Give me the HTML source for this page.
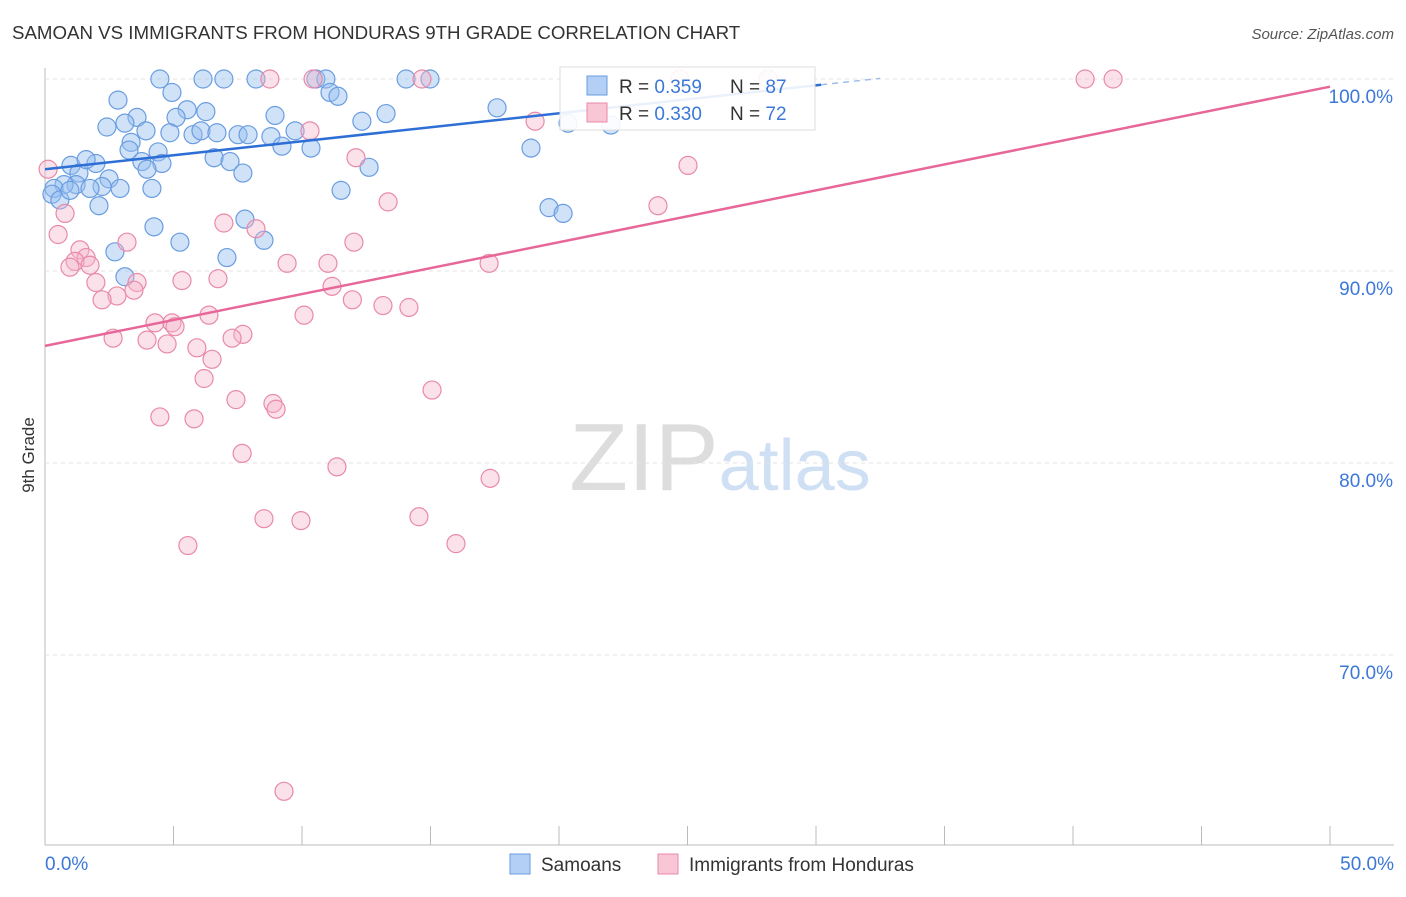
<!DOCTYPE html>
<html><head><meta charset="utf-8"><style>
body{margin:0;background:#fff;font-family:"Liberation Sans",sans-serif;}
svg text{font-family:"Liberation Sans",sans-serif;}
</style></head><body>
<svg id="c" width="1406" height="892">
<text x="12" y="39" font-size="18.7" fill="#333">SAMOAN VS IMMIGRANTS FROM HONDURAS 9TH GRADE CORRELATION CHART</text>
<text x="1394" y="39" font-size="15" fill="#555" font-style="italic" text-anchor="end">Source: ZipAtlas.com</text>
<text x="34" y="455" font-size="17" fill="#333" transform="rotate(-90 34 455)" text-anchor="middle">9th Grade</text>
<text x="720" y="490" font-size="96" fill="#ddd" text-anchor="middle" font-family="Liberation Serif">ZIP<tspan fill="#cfe0f4" font-family="Liberation Sans" font-size="72">atlas</tspan></text>
<g id="grid"></g><g id="pts"></g><g id="lines"></g>
<g>
<rect x="560" y="67" width="255" height="63" fill="#fff" fill-opacity="0.9" stroke="#ddd"/>
<rect x="587" y="76" width="20" height="19" fill="#b3cff5" stroke="#6a9de0"/>
<text x="619" y="93" font-size="19" fill="#333">R = <tspan fill="#3b78d8">0.359</tspan><tspan x="730">N = </tspan><tspan fill="#3b78d8">87</tspan></text>
<rect x="587" y="103" width="20" height="19" fill="#f9c6d6" stroke="#e88aa8"/>
<text x="619" y="120" font-size="19" fill="#333">R = <tspan fill="#3b78d8">0.330</tspan><tspan x="730">N = </tspan><tspan fill="#3b78d8">72</tspan></text>
</g>
<g>
<rect x="510" y="854" width="20" height="20" fill="#b3cff5" stroke="#6a9de0"/>
<text x="541" y="871" font-size="19" fill="#333">Samoans</text>
<rect x="658" y="854" width="20" height="20" fill="#f9c6d6" stroke="#e88aa8"/>
<text x="689" y="871" font-size="19" fill="#333">Immigrants from Honduras</text>
</g>
</svg>
<script>
const xTicks=[0,5,10,15,20,25,30,35,40,45,50];
const yTicks=[70,80,90,100];
const blueX=[4.47,6.15,6.96,8.21,10.54,10.93,14.05,14.98,2.84,4.94,11.09,11.40,17.59,5.53,6.26,8.95,12.33,13.27,5.10,3.58,2.41,3.11,3.93,4.86,5.76,6.07,6.69,7.51,7.90,8.79,9.73,9.22,10.35,3.35,3.27,4.40,6.58,7.20,3.77,4.55,3.97,7.70,12.61,18.91,20.35,22.02,1.98,1.01,1.32,1.60,2.49,2.22,2.92,4.16,11.52,1.21,0.74,0.35,0.27,0.58,2.10,4.24,5.25,7.78,8.52,7.08,2.72,3.11,19.61,20.16,1.75,0.97];
const blueY=[100,100,100,100,100,100,100,100,98.9,99.3,99.3,99.1,98.5,98.4,98.3,98.1,97.8,98.2,98.0,98.0,97.5,97.7,97.3,97.2,97.1,97.3,97.2,97.1,97.1,97.0,97.3,96.5,96.4,96.7,96.3,96.2,95.9,95.7,95.7,95.6,95.3,95.1,95.4,96.4,97.7,97.6,95.6,95.5,95.1,95.8,94.8,94.4,94.3,94.3,94.2,94.5,94.5,94.3,94.0,93.7,93.4,92.3,91.5,92.7,91.6,90.7,91.0,89.7,93.3,93.0,94.3,94.2];
const pinkX=[8.75,10.43,14.67,24.71,28.13,40.47,41.56,10.31,19.07,25.02,12.10,13.35,23.85,0.12,0.78,0.51,6.96,8.21,3.19,12.02,1.36,1.60,1.17,1.75,0.97,9.42,11.01,17.28,6.73,5.33,3.58,1.98,11.17,3.46,2.80,2.22,11.96,13.15,14.16,6.38,10.08,4.28,4.94,5.06,7.70,7.28,2.65,3.97,4.75,5.91,6.50,6.19,15.06,7.43,8.87,8.99,4.47,5.80,7.67,11.36,17.32,8.52,9.96,14.55,5.56,15.99,9.30];
const pinkY=[100,100,100,100,100,100,100,97.3,97.8,95.5,95.9,93.6,93.4,95.3,93.0,91.9,92.5,92.2,91.5,91.5,91.1,90.7,90.5,90.3,90.2,90.4,90.4,90.4,89.6,89.5,89.4,89.4,89.2,89.0,88.7,88.5,88.5,88.2,88.1,87.7,87.7,87.3,87.3,87.1,86.7,86.5,86.5,86.4,86.2,86.0,85.4,84.4,83.8,83.3,83.1,82.8,82.4,82.3,80.5,79.8,79.2,77.1,77.0,77.2,75.7,75.8,62.9];
const blueLine=[95.3,99.7]; // y at x=0 and x=30.2
const pinkLine=[86.1,99.6];
const NS="http://www.w3.org/2000/svg";
const X=v=>45+v*25.7, Y=v=>79+(100-v)*19.2;
function mk(t,a,p){const e=document.createElementNS(NS,t);for(const k in a)e.setAttribute(k,a[k]);p.appendChild(e);return e;}
const g=document.getElementById('grid');
const ax=mk('line',{x1:45,y1:845,x2:1394,y2:845,stroke:'#bbb'},g);


const ay=mk('line',{x1:45,y1:68,x2:45,y2:845,stroke:'#bbb'},g);


yTicks.forEach(t=>{const l=mk('line',{x1:45,y1:Y(t),x2:1394,y2:Y(t),stroke:'#e3e3e3','stroke-dasharray':'4,4'},g);


const tx=mk('text',{x:1393,y:Y(t)+24,'font-size':19,fill:'#3b78d8','text-anchor':'end'},g);tx.textContent=t.toFixed(1)+'%';

});
xTicks.forEach(t=>{const l=mk('line',{x1:X(t),y1:826,x2:X(t),y2:845,stroke:'#bbb'},g);

});
[[0,'start',45],[50,'end',1394]].forEach(([t,a,px])=>{const tx=mk('text',{x:px,y:870,'font-size':19,fill:'#3b78d8','text-anchor':a},g);tx.textContent=t.toFixed(1)+'%';

});
const p=document.getElementById('pts');
blueX.forEach((v,i)=>{const c=mk('circle',{cx:X(v),cy:Y(blueY[i]),r:9,fill:'rgba(150,190,240,0.45)',stroke:'#6a9de0','stroke-width':1.2},p);

});
pinkX.forEach((v,i)=>{const c=mk('circle',{cx:X(v),cy:Y(pinkY[i]),r:9,fill:'rgba(246,180,202,0.4)',stroke:'#e88aa8','stroke-width':1.2},p);

});
const L=document.getElementById('lines');
const bl=mk('line',{x1:X(0),y1:Y(blueLine[0]),x2:X(30.2),y2:Y(blueLine[1]),stroke:'#2e6fd6','stroke-width':2.5},L);


const sl=(blueLine[1]-blueLine[0])/30.2;
const bd=mk('line',{x1:X(30.2),y1:Y(blueLine[1]),x2:X(32.5),y2:Y(blueLine[0]+sl*32.5),stroke:'#9dbde8','stroke-width':1.5,'stroke-dasharray':'6,5'},L);


const pl=mk('line',{x1:X(0),y1:Y(pinkLine[0]),x2:X(50),y2:Y(pinkLine[1]),stroke:'#e8679a','stroke-width':2.5},L);


</script>
</body></html>
